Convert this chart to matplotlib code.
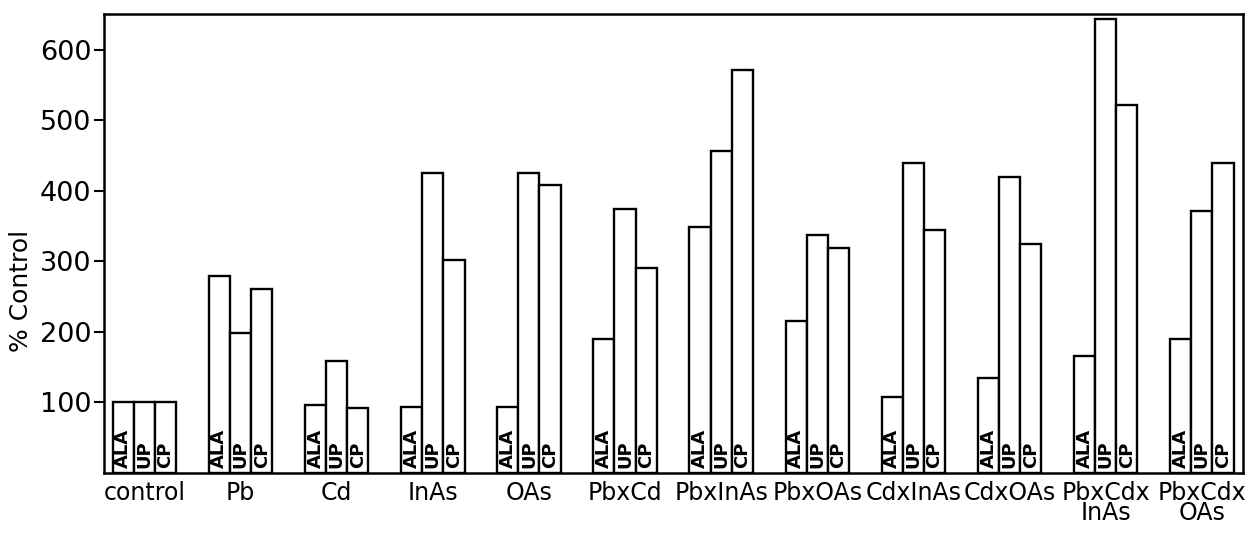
import numpy as np
import matplotlib
matplotlib.use("Agg")
import matplotlib.pyplot as plt

# treatment groups along the x axis
groups = ["control", "Pb", "Cd", "InAs", "OAs", "PbxCd", "PbxInAs",
          "PbxOAs", "CdxInAs", "CdxOAs", "PbxCdx\nInAs", "PbxCdx\nOAs"]
series = ["ALA", "UP", "CP"]

# % of control
ala = [100, 279, 96, 93, 93, 190, 349, 215, 107, 135, 165, 189]
up = [100, 198, 158, 425, 425, 374, 457, 337, 440, 419, 644, 372]
cp = [100, 261, 92, 302, 408, 290, 572, 319, 344, 325, 522, 439]

yticks = [100, 200, 300, 400, 500, 600]

fig = plt.figure(figsize=(12.56, 5.46), dpi=100)
ax = fig.add_axes([0.0828, 0.1344, 0.907, 0.840])

x = np.arange(len(groups))
width = 0.22
for k, (name, vals) in enumerate(zip(series, [ala, up, cp])):
    pos = x + (k - 1) * width
    ax.bar(pos, vals, width=width, facecolor="white", edgecolor="black",
           linewidth=1.7, zorder=2)
    # the short series name written up the bottom of each bar
    for p in pos:
        ax.text(p, 6, name, rotation=90, ha="center", va="bottom",
                fontsize=13, fontweight="bold", zorder=3)

ax.set_xlim(-0.42, len(groups) - 1 + 0.43)
ax.set_ylim(0, 651)
ax.set_yticks(yticks)
ax.set_yticklabels([str(v) for v in yticks], fontsize=19.5)
ax.set_xticks(x)
ax.set_xticklabels(groups, fontsize=17, linespacing=0.8, va="top")
ax.tick_params(axis="x", length=0, pad=6)
ax.tick_params(axis="y", direction="out", length=7, width=1.5, pad=2)
ax.set_ylabel("% Control", fontsize=18)
ax.yaxis.set_label_coords(-0.062, 0.396)

for side in ax.spines.values():
    side.set_linewidth(1.8)

fig.savefig("out.png", dpi=100)
